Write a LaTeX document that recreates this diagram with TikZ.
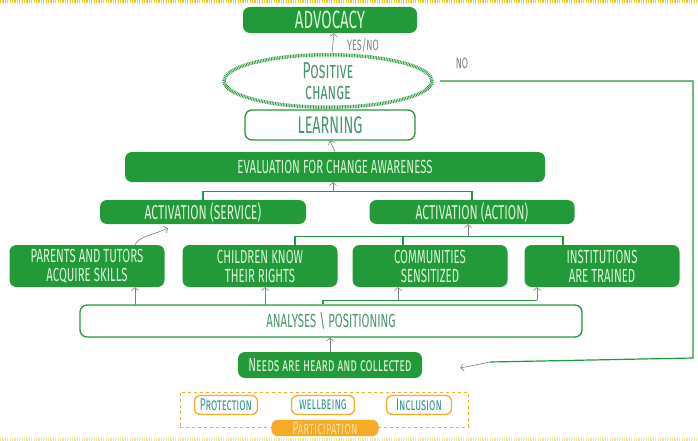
\documentclass[tikz,border=0pt]{standalone}
\usepackage{fontspec}
\newfontfamily\hand[FakeStretch=0.6]{Fira Sans}
\usetikzlibrary{shapes.geometric,arrows.meta}
\definecolor{boxgreen}{RGB}{34,154,58}
\definecolor{boxtext}{RGB}{220,242,214}
\definecolor{softgreen}{RGB}{72,150,112}
\definecolor{linkgray}{RGB}{125,125,125}
\definecolor{valueorange}{RGB}{245,170,40}
\definecolor{tealtext}{RGB}{52,150,150}
\definecolor{edgeyellow}{RGB}{240,200,50}
\tikzset{
  greenbox/.style={rounded corners=7pt, fill=boxgreen, text=boxtext, align=center, inner sep=0pt, font=\hand\fontsize{19}{19}\selectfont},
  linebox/.style={rounded corners=7pt, draw=boxgreen, line width=1.3pt, fill=white, text=softgreen, align=center, inner sep=0pt, font=\hand\fontsize{19}{19}\selectfont},
  valuebox/.style={rounded corners=6pt, draw=valueorange, line width=1.3pt, text=tealtext, inner sep=0pt, font=\hand\fontsize{17}{17}\selectfont},
  link/.style={draw=linkgray, line width=0.6pt, -{Straight Barb[length=3pt,width=7pt]}},
  bracket/.style={draw=boxgreen, line width=1.2pt},
  edgeline/.style={draw=edgeyellow, line width=3pt, dash pattern=on 1.2pt off 1.2pt},
}
\begin{document}
\begin{tikzpicture}[x=1pt,y=-1pt]
    \useasboundingbox (0,0) rectangle (698,441);
    \draw[edgeline] (0,1.5) -- (698,1.5);
    \draw[edgeline, draw opacity=0.5] (0,439.5) -- (698,439.5);
    \node[greenbox, minimum width=174, minimum height=26, font=\hand\fontsize{25}{25}\selectfont] (advocacy) at (330,20) {ADVOCACY};
    \node[ellipse, draw=boxgreen, line width=3.5pt, dash pattern=on 0.8pt off 0.8pt, minimum width=208, minimum height=48, text=softgreen, align=center, inner sep=0pt, font=\hand\fontsize{23}{21}\selectfont] (change) at (328,81) {\textsc{Positive}\\\textsc{change}};
    \node[linebox, minimum width=170, minimum height=30, font=\hand\fontsize{24}{24}\selectfont] (learning) at (330,125) {LEARNING};
    \node[greenbox, minimum width=420, minimum height=30] (evaluation) at (335,167) {EVALUATION FOR CHANGE AWARENESS};
    \node[greenbox, minimum width=206, minimum height=24, font=\hand\fontsize{20}{20}\selectfont] (service) at (203,212) {ACTIVATION (SERVICE)};
    \node[greenbox, minimum width=205, minimum height=24, font=\hand\fontsize{20}{20}\selectfont] (action) at (472,212) {ACTIVATION (ACTION)};
    \node[greenbox, minimum width=155, minimum height=42] (parents) at (87,266) {PARENTS AND TUTORS\\ACQUIRE SKILLS};
    \node[greenbox, minimum width=155, minimum height=42] (children) at (260,266) {CHILDREN KNOW\\THEIR RIGHTS};
    \node[greenbox, minimum width=155, minimum height=42] (communities) at (430,266) {COMMUNITIES\\SENSITIZED};
    \node[greenbox, minimum width=155, minimum height=42] (institutions) at (602,266) {INSTITUTIONS\\ARE TRAINED};
    \node[linebox, minimum width=502, minimum height=32] (analyses) at (331,321) {ANALYSES \textbackslash{} POSITIONING};
    \node[greenbox, minimum width=184, minimum height=26] (needs) at (330,365) {\textsc{Needs are heard and collected}};
    \node[draw=valueorange, line width=1pt, dashed, minimum width=288, minimum height=35] (values) at (324,409.5) {};
    \node[valuebox, minimum width=63, minimum height=19] (protection) at (226,405) {\textsc{Protection}};
    \node[valuebox, minimum width=63, minimum height=19] (wellbeing) at (323,405) {\textsc{wellbeing}};
    \node[valuebox, minimum width=65, minimum height=19] (inclusion) at (419,405) {\textsc{Inclusion}};
    \node[valuebox, fill=valueorange, text=edgeyellow!55!white, minimum width=106, minimum height=15, font=\hand\fontsize{18}{18}\selectfont] (participation) at (325,428) {\textsc{Participation}};
    \node[text=linkgray, font=\hand\fontsize{15}{15}\selectfont] (yesno) at (363,45) {YES/NO};
    \node[text=linkgray, font=\hand\fontsize{15}{15}\selectfont] (nolabel) at (462,63) {NO};
    % upper chain
    \draw[link] ([xshift=4pt]change.north) -- ([xshift=4pt]advocacy.south);
    \draw[link] (evaluation.north) -- (learning.south);
    \draw[bracket] (service.north) -- ++(0,-8) -| (action.north);
    \coordinate (evalfork) at (333,192);
    \draw[link] (evalfork) -- (evaluation.south -| evalfork);
    % activation row
    \draw[link] ([xshift=48pt]parents.north) .. controls (140,236) and (150,236) .. ([xshift=-35pt,yshift=-4pt]service.south);
    \draw[bracket] ([xshift=35pt]children.north) -- ++(0,-8) -| ([xshift=-39pt]institutions.north);
    \draw[bracket] ([xshift=-27pt]communities.north) -- ++(0,-8);
    \coordinate (actfork) at (468,237);
    \draw[link] (actfork) -- (action.south -| actfork);
    % analyses row
    \draw[link] ([xshift=48pt,yshift=-18pt]parents.south) -- ([xshift=48pt]parents.south);
    \draw[link] ([xshift=5pt,yshift=-18pt]children.south) -- ([xshift=5pt]children.south);
    \draw[bracket] ([xshift=-8pt]analyses.north) |- ([xshift=-65pt,yshift=-13pt]institutions.south);
    \draw[link] ([xshift=-32pt,yshift=-13pt]communities.south) -- ([xshift=-32pt]communities.south);
    \draw[link] ([xshift=-65pt,yshift=-13pt]institutions.south) -- ([xshift=-65pt]institutions.south);
    \draw[link] (needs.north) -- (analyses.south -| needs.north);
    % no loop
    \draw[bracket] ([xshift=6pt]change.east) -| (693,358) -- ([xshift=68pt,yshift=3pt]needs.east);
    \draw[link] ([xshift=68pt,yshift=3pt]needs.east) -- ([xshift=38pt,yshift=-3pt]needs.east);
\end{tikzpicture}
\end{document}
